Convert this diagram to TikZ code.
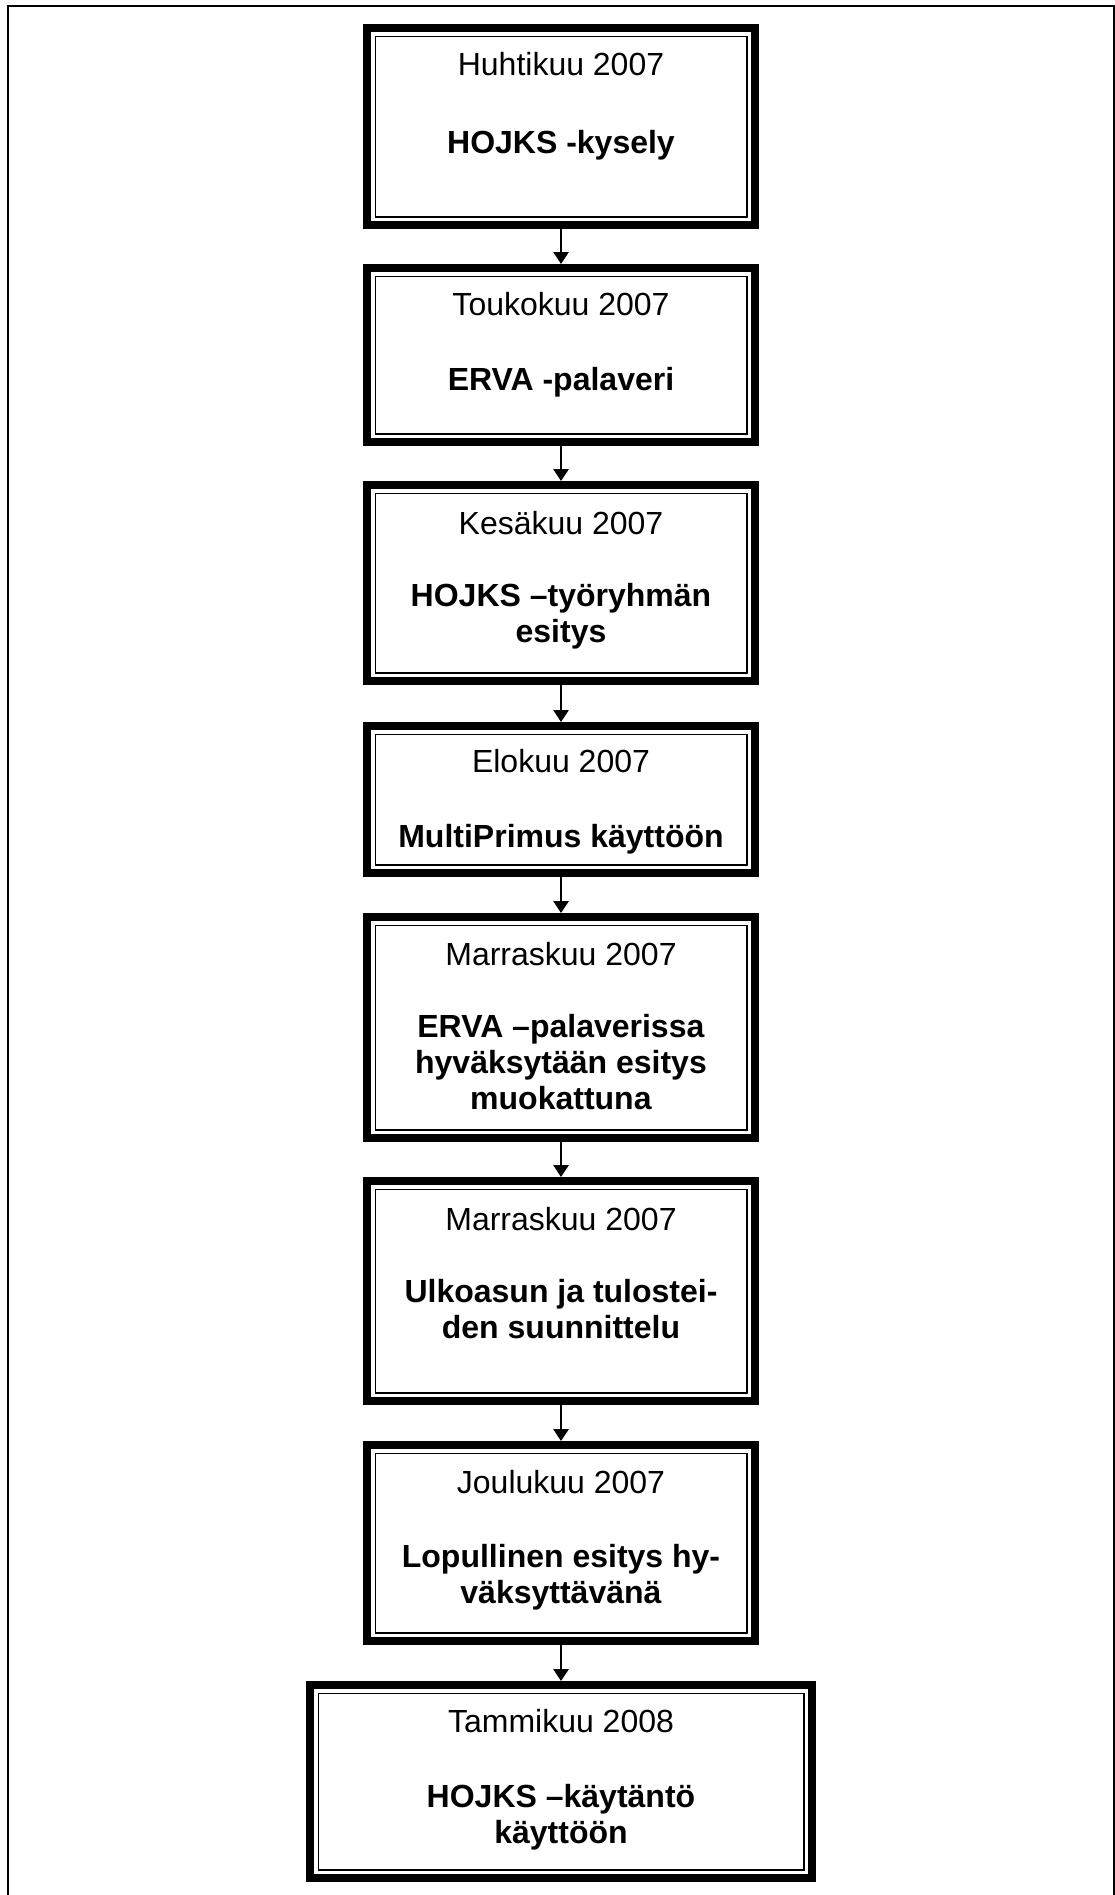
\documentclass[tikz,border=0pt]{standalone}
\usepackage{fontspec}
\setmainfont{Liberation Sans}
\usetikzlibrary{arrows.meta}

\tikzset{
  stagebox/.style={draw, line width=4pt, inner sep=0pt, outer sep=0pt, minimum width=194pt},
  stagetext/.style={anchor=base, align=center, font=\fontsize{16}{18}\selectfont},
  flow/.style={-{Triangle[length=6pt,width=7.5pt]}, line width=1.4pt, shorten >=2pt},
}

\begin{document}
\begin{tikzpicture}[x=0.5pt, y=-0.5pt]
\useasboundingbox (0,0) rectangle (1114,1895);
% page frame
\draw[line width=1pt] (8,1900) -- (8,6) -- (1114,6) -- (1114,1900);

% boxes
\node[stagebox, minimum height=98.5pt] (b1) at (561,126.5) {};
\node[stagebox, minimum height=87pt] (b2) at (561,355) {};
\node[stagebox, minimum height=98pt] (b3) at (561,583) {};
\node[stagebox, minimum height=73.5pt] (b4) at (561,799.5) {};
\node[stagebox, minimum height=110.5pt] (b5) at (561,1027.5) {};
\node[stagebox, minimum height=110pt] (b6) at (561,1291) {};
\node[stagebox, minimum height=98pt] (b7) at (561,1543) {};
\node[stagebox, minimum height=96.5pt, minimum width=251pt] (b8) at (561,1781.5) {};

% inner thin frames
\foreach \b in {b1,b2,b3,b4,b5,b6,b7,b8}
  \draw[line width=0.8pt] ([shift={(8.3,8.3)}]\b.north west) rectangle ([shift={(-8.3,-8.3)}]\b.south east);

% texts (base = last line)
\node[stagetext] (t1) at (561,153) {Huhtikuu 2007\\[21pt]\textbf{HOJKS -kysely}};
\node[stagetext] (t2) at (561,390) {Toukokuu 2007\\[19.5pt]\textbf{ERVA -palaveri}};
\node[stagetext] (t3) at (561,642) {Kesäkuu 2007\\[18pt]\textbf{HOJKS –työryhmän}\\\textbf{esitys}};
\node[stagetext] (t4) at (561,847) {Elokuu 2007\\[19.5pt]\textbf{MultiPrimus käyttöön}};
\node[stagetext] (t5) at (561,1109) {Marraskuu 2007\\[18pt]\textbf{ERVA –palaverissa}\\\textbf{hyväksytään esitys}\\\textbf{muokattuna}};
\node[stagetext] (t6) at (561,1338) {Marraskuu 2007\\[18pt]\textbf{Ulkoasun ja tulostei-}\\\textbf{den suunnittelu}};
\node[stagetext] (t7) at (561,1603) {Joulukuu 2007\\[19pt]\textbf{Lopullinen esitys hy-}\\\textbf{väksyttävänä}};
\node[stagetext] (t8) at (561,1843) {Tammikuu 2008\\[19.5pt]\textbf{HOJKS –käytäntö}\\\textbf{käyttöön}};

% arrows
\foreach \a/\b in {b1/b2,b2/b3,b3/b4,b4/b5,b5/b6,b6/b7,b7/b8}
  \draw[flow] (\a.south) -- (\b.north);
\end{tikzpicture}
\end{document}
